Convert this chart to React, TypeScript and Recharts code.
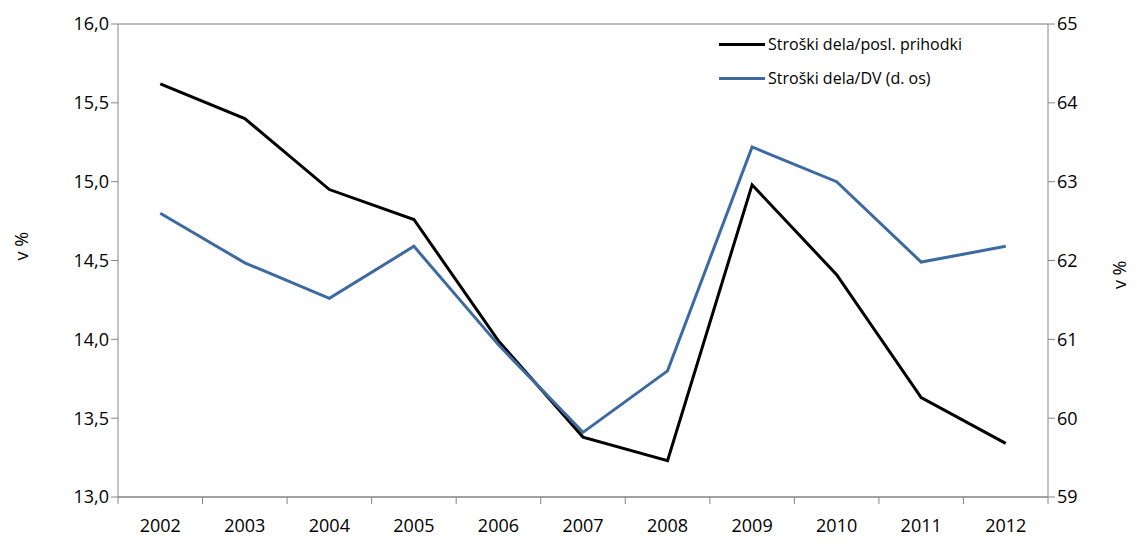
import React from 'react';
import { LineChart, Line, XAxis, YAxis, CartesianGrid } from 'recharts';

const years = ['2002', '2003', '2004', '2005', '2006', '2007', '2008', '2009', '2010', '2011', '2012'];
const laborToRevenue = [15.62, 15.4, 14.95, 14.76, 13.99, 13.38, 13.23, 14.98, 14.41, 13.63, 13.34];
const laborToValueAdded = [62.6, 61.97, 61.52, 62.18, 60.93, 59.82, 60.6, 63.44, 63.0, 61.98, 62.18];
const leftTicks = [13, 13.5, 14, 14.5, 15, 15.5, 16];
const rightTicks = [59, 60, 61, 62, 63, 64, 65];

const seriesNames = ['Stroški dela/posl. prihodki', 'Stroški dela/DV (d. os)'];
const seriesColors = ['#000000', '#3d6aa0'];

const data = years.map((year, i) => ({
  year,
  revenue: laborToRevenue[i],
  va: laborToValueAdded[i],
}));

const W = 1137;
const H = 545;
const PLOT_LEFT = 118;
const PLOT_RIGHT = 1048;
const BAND = (PLOT_RIGHT - PLOT_LEFT) / years.length;
const FONT = "'Open Sans', sans-serif";
const AXIS = '#868686';

const fmtComma = (v: number) => v.toFixed(1).replace('.', ',');

function YearTick(props: any) {
  const { x, y, payload, index } = props;
  const top = y - 8;
  return (
    <g>
      <line x1={x - BAND / 2} y1={top} x2={x - BAND / 2} y2={top + 7} stroke={AXIS} />
      {index === years.length - 1 && (
        <line x1={x + BAND / 2} y1={top} x2={x + BAND / 2} y2={top + 7} stroke={AXIS} />
      )}
      <text x={x} y={y + 27} textAnchor="middle" fill="#000" fontSize={18} fontFamily={FONT}>
        {payload.value}
      </text>
    </g>
  );
}

function LegendBox() {
  return (
    <div
      style={{
        position: 'absolute',
        left: 719,
        top: 27,
        fontFamily: FONT,
        fontSize: 16,
        color: '#000',
      }}
    >
      {seriesNames.map((name, i) => (
        <div key={name} style={{ display: 'flex', alignItems: 'center', height: 34 }}>
          <div style={{ width: 46, height: 3, background: seriesColors[i], marginRight: 3 }} />
          <span>{name}</span>
        </div>
      ))}
    </div>
  );
}

export default function App() {
  return (
    <div style={{ margin: -8, width: W, height: H, background: '#fff', position: 'relative' }}>
      <LineChart
        width={W}
        height={H}
        data={data}
        margin={{ top: 24, right: 5, left: 5, bottom: 0 }}
      >
        <CartesianGrid horizontal vertical={false} stroke="#a6a6a6" strokeWidth={1.3} />
        <XAxis
          dataKey="year"
          scale="band"
          stroke={AXIS}
          tickLine={false}
          tick={<YearTick />}
          height={48}
        />
        <YAxis
          yAxisId="left"
          domain={[13, 16]}
          ticks={leftTicks}
          tickFormatter={fmtComma}
          width={PLOT_LEFT - 5}
          stroke={AXIS}
          tickSize={7}
          tick={{ fill: '#000', fontSize: 18, fontFamily: FONT }}
          label={{ value: 'v %', angle: -90, position: 'insideLeft', offset: 17, fill: '#000', fontSize: 18, fontFamily: FONT }}
        />
        <YAxis
          yAxisId="right"
          orientation="right"
          domain={[59, 65]}
          ticks={rightTicks}
          width={W - PLOT_RIGHT - 5}
          stroke={AXIS}
          tickSize={7}
          tick={{ fill: '#000', fontSize: 18, fontFamily: FONT }}
          label={{ value: 'v %', angle: -90, position: 'insideRight', offset: 12, fill: '#000', fontSize: 18, fontFamily: FONT }}
        />
        <Line
          yAxisId="left"
          dataKey="revenue"
          name={seriesNames[0]}
          stroke={seriesColors[0]}
          strokeWidth={3}
          dot={false}
          isAnimationActive={false}
        />
        <Line
          yAxisId="right"
          dataKey="va"
          name={seriesNames[1]}
          stroke={seriesColors[1]}
          strokeWidth={3}
          dot={false}
          isAnimationActive={false}
        />
      </LineChart>
      <LegendBox />
    </div>
  );
}
